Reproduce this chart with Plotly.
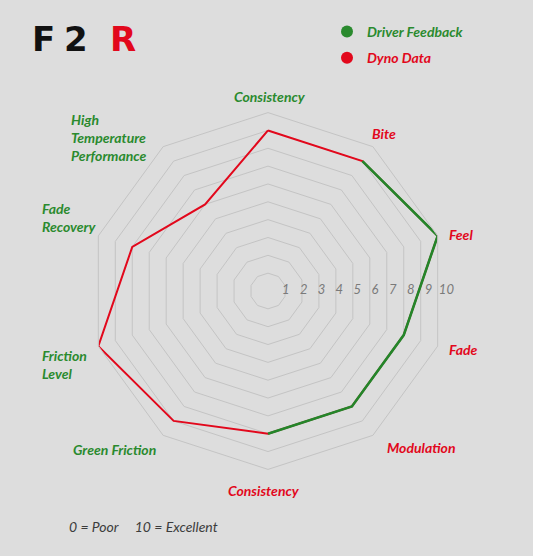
import plotly.graph_objects as go

# data
categories = ["Consistency", "Bite", "Feel", "Fade", "Modulation", "Consistency",
              "Green Friction", "Friction<br>Level", "Fade<br>Recovery",
              "High<br>Temperature<br>Performance"]
label_groups = ["driver", "dyno", "dyno", "dyno", "dyno", "dyno",
                "driver", "driver", "driver", "driver"]
dyno_data = [9, 9, 10, 8, 8, 8, 9, 10, 8, 6]
driver_feedback = [None, 9, 10, 8, 8, 8, None, None, None, None]
radial_ticks = [1, 2, 3, 4, 5, 6, 7, 8, 9, 10]

GREEN = "#23862a"
RED = "#e2081c"
BG = "#dddddd"
GRID = "#c4c4c4"
W, H = 533, 556

# "Consistency" appears twice, so each spoke gets its own key
keys = [f"{i} {c}" for i, c in enumerate(categories)]

# polar area (pixels): centre and radius
cx, cy, R = 268, 291, 178.4
dom_x = [(cx - R) / W, (cx + R) / W]
dom_y = [(H - cy - R) / H, (H - cy + R) / H]

fig = go.Figure()

fig.add_trace(go.Scatterpolar(
    r=dyno_data + [dyno_data[0]], theta=keys + [keys[0]],
    mode="lines", line=dict(color=RED, width=2),
    showlegend=False, hoverinfo="skip"))
fig.add_trace(go.Scatterpolar(
    r=driver_feedback, theta=keys, mode="lines", connectgaps=False,
    line=dict(color=GREEN, width=2.6), showlegend=False, hoverinfo="skip"))

# radial scale numbers along the horizontal axis (second, invisible polar)
fig.add_trace(go.Scatterpolar(
    r=radial_ticks, theta=[90] * len(radial_ticks), subplot="polar2",
    text=[str(t) for t in radial_ticks], mode="text",
    textfont=dict(family="Lato", size=13, color="#7a7a7a", style="italic"),
    cliponaxis=False, showlegend=False, hoverinfo="skip"))

# legend entries
fig.add_trace(go.Scatterpolar(
    r=[None], theta=[None], mode="markers", legendgroup="a",
    marker=dict(color="#2a8a2e", size=12),
    name="<span style='color:#2a8a2e'>Driver Feedback</span>"))
fig.add_trace(go.Scatterpolar(
    r=[None], theta=[None], mode="markers", legendgroup="b",
    marker=dict(color=RED, size=12),
    name=f"<span style='color:{RED}'>Dyno Data</span>"))

# category labels (text-box centres in pixels)
label_pos = [(270, 96), (384, 133), (461, 234), (463, 349), (421, 447),
             (264, 490), (114, 449), (64, 364), (69, 217), (109, 137)]
for name, grp, (px, py) in zip(categories, label_groups, label_pos):
    fig.add_annotation(
        x=px / W, y=1 - py / H, xref="paper", yref="paper",
        text=name, showarrow=False, align="left",
        xanchor="center", yanchor="middle",
        font=dict(family="Lato", size=14, weight="bold", style="italic",
                  color="#2a8a2e" if grp == "driver" else RED))

# logo, one glyph at a time to get the wide look
for ch, px, col in [("F", 43, "#111111"), ("2", 76, "#111111"), ("R", 123, RED)]:
    fig.add_annotation(
        x=px / W, y=1 - 39 / H, xref="paper", yref="paper", showarrow=False,
        xanchor="center", yanchor="middle", text=f"<b>{ch}</b>",
        font=dict(family="DejaVu Sans", size=34, color=col))

fig.add_annotation(
    x=67 / W, y=1 - 526 / H, xref="paper", yref="paper", showarrow=False,
    xanchor="left", yanchor="middle",
    text="0 = Poor&nbsp;&nbsp;&nbsp;&nbsp;&nbsp;10 = Excellent",
    font=dict(family="Lato", size=14, style="italic", color="#3c3c3c"))

fig.update_layout(
    width=W, height=H,
    margin=dict(l=0, r=0, t=0, b=0),
    paper_bgcolor=BG,
    showlegend=True,
    legend=dict(x=327 / W, y=1 - 16 / H, xanchor="left", yanchor="top",
                bgcolor="rgba(0,0,0,0)", tracegroupgap=5,
                font=dict(family="Lato", size=14, weight="bold", style="italic")),
    polar=dict(
        domain=dict(x=dom_x, y=dom_y),
        bgcolor=BG,
        gridshape="linear",
        radialaxis=dict(range=[0, 10], tickvals=radial_ticks, showticklabels=False,
                        showline=False, ticks="", gridcolor=GRID, gridwidth=1),
        angularaxis=dict(type="category", categoryarray=keys,
                         rotation=90, direction="clockwise",
                         showticklabels=False, ticks="", showgrid=False,
                         showline=True, linecolor=GRID, linewidth=1),
    ),
    polar2=dict(
        domain=dict(x=dom_x, y=dom_y),
        bgcolor="rgba(0,0,0,0)",
        radialaxis=dict(range=[0, 10], visible=False),
        angularaxis=dict(rotation=90, direction="clockwise", visible=False),
    ),
)

fig.write_html("out.html", config={"displayModeBar": False},
               post_script="document.body.style.margin='0';")
